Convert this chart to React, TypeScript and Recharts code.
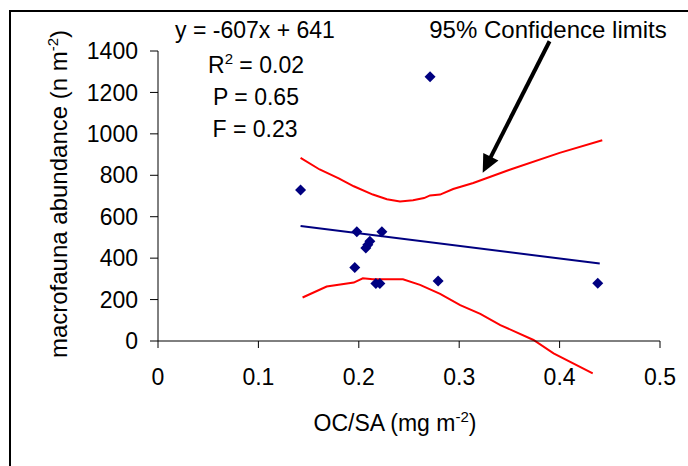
import React from 'react';
import { ComposedChart, XAxis, YAxis, Line, Scatter, ReferenceLine } from 'recharts';

// OC/SA (mg m-2) and macrofauna abundance (n m-2) for each station
const ocsa = [0.142, 0.271, 0.198, 0.223, 0.211, 0.209, 0.207, 0.196, 0.217, 0.221, 0.279, 0.438];
const abundance = [729, 1276, 527, 527, 481, 465, 449, 355, 277, 277, 290, 279];

// regression line y = -607x + 641 (end points)
const fitX = [0.142, 0.44];
const fitY = [555, 374];

// 95% confidence limits
const upperX = [0.142, 0.161, 0.18, 0.195, 0.214, 0.228, 0.241, 0.254, 0.265, 0.271, 0.281, 0.294, 0.314, 0.351, 0.4, 0.4425];
const upperY = [884, 828, 785, 747, 707, 684, 674, 679, 690, 703, 707, 734, 763, 828, 908, 969];
const lowerX = [0.144, 0.168, 0.195, 0.204, 0.214, 0.231, 0.244, 0.261, 0.281, 0.301, 0.321, 0.341, 0.374, 0.394, 0.433];
const lowerY = [210, 263, 282, 303, 298, 298, 298, 271, 228, 173, 131, 77, 5, -60, -156];

const xTicks = [0, 0.1, 0.2, 0.3, 0.4, 0.5];
const yTicks = [0, 200, 400, 600, 800, 1000, 1200, 1400];

// annotation arrow (data units)
const arrowFrom = { x: 0.39, y: 1447 };
const arrowTo = { x: 0.3234, y: 812 };

const pts = ocsa.map((x, i) => ({ x, y: abundance[i] }));
const fit = fitX.map((x, i) => ({ x, y: fitY[i] }));
const upper = upperX.map((x, i) => ({ x, y: upperY[i] }));
const lower = lowerX.map((x, i) => ({ x, y: lowerY[i] }));

const FONT = '"Liberation Sans", Arial, sans-serif';
const NAVY = '#000080';
const RED = '#ff0000';

const Diamond = (props: any) => {
  const { cx, cy } = props;
  if (cx == null || cy == null) return null;
  const r = 5.5;
  return <polygon points={`${cx},${cy - r} ${cx + r},${cy} ${cx},${cy + r} ${cx - r},${cy}`} fill={NAVY} />;
};

const Arrow = (props: any) => {
  const { x1, y1, x2, y2 } = props;
  if ([x1, y1, x2, y2].some((v) => v == null || isNaN(v))) return null;
  const dx = x2 - x1;
  const dy = y2 - y1;
  const len = Math.sqrt(dx * dx + dy * dy);
  const ux = dx / len;
  const uy = dy / len;
  const px = -uy;
  const py = ux;
  const head = 18;
  const half = 8.5;
  const bx = x2 - ux * head;
  const by = y2 - uy * head;
  return (
    <g>
      <line x1={x1} y1={y1} x2={bx + ux * 2} y2={by + uy * 2} stroke="#000" strokeWidth={4} />
      <polygon points={`${x2},${y2} ${bx + px * half},${by + py * half} ${bx - px * half},${by - py * half}`} fill="#000" />
    </g>
  );
};

export default function App() {
  return (
    <div style={{ position: 'absolute', left: 0, top: 0, width: 688, height: 466, overflow: 'hidden', background: '#fff', fontFamily: FONT }}>
      <style>{'.noclip [clip-path]{clip-path:none !important}'}</style>
      <div style={{ position: 'absolute', left: 9, top: 10, width: 800, height: 600, borderLeft: '2px solid #000', borderTop: '2px solid #000' }} />
      <div className="noclip" style={{ position: 'absolute', left: 0, top: 0 }}>
        <ComposedChart width={688} height={466} margin={{ top: 51, right: 28, bottom: 85, left: 0 }}>
          <XAxis
            type="number"
            dataKey="x"
            domain={[0, 0.5]}
            ticks={xTicks}
            allowDataOverflow
            height={40}
            stroke="#000"
            tickSize={7}
            tickMargin={21}
            tick={{ fill: '#000', fontSize: 23, fontFamily: FONT }}
          />
          <YAxis
            type="number"
            dataKey="y"
            domain={[0, 1400]}
            ticks={yTicks}
            allowDataOverflow
            width={158}
            stroke="#000"
            tickSize={8}
            tickMargin={12}
            tick={{ fill: '#000', fontSize: 23, fontFamily: FONT }}
          />
          <Line data={upper} dataKey="y" type="linear" stroke={RED} strokeWidth={2} dot={false} isAnimationActive={false} />
          <Line data={lower} dataKey="y" type="linear" stroke={RED} strokeWidth={2} dot={false} isAnimationActive={false} />
          <Line data={fit} dataKey="y" type="linear" stroke={NAVY} strokeWidth={2} dot={false} isAnimationActive={false} />
          <Scatter data={pts} dataKey="y" shape={Diamond} isAnimationActive={false} />
          <ReferenceLine
            segment={[{ x: arrowFrom.x, y: arrowFrom.y }, { x: arrowTo.x, y: arrowTo.y }]}
            ifOverflow="visible"
            shape={Arrow}
          />
        </ComposedChart>
      </div>
      <svg width={688} height={466} style={{ position: 'absolute', left: 0, top: 0, pointerEvents: 'none' }}>
        <g fontFamily={FONT} fontSize={23} fill="#000" textAnchor="middle">
          <text x={255} y={38}>y = -607x + 641</text>
          <text x={256} y={73}>
            R<tspan fontSize={15} dy={-9}>2</tspan>
            <tspan dy={9}> = 0.02</tspan>
          </text>
          <text x={256} y={105}>P = 0.65</text>
          <text x={255} y={137}>F = 0.23</text>
          <text x={548} y={38} fontSize={24}>95% Confidence limits</text>
          <text x={395} y={431}>
            OC/SA (mg m<tspan fontSize={15} dy={-9}>-2</tspan>
            <tspan dy={9}>)</tspan>
          </text>
          <text x={67} y={194} fontSize={24} transform="rotate(-90 67 194)">
            macrofauna abundance (n m<tspan fontSize={15} dy={-9}>-2</tspan>
            <tspan dy={9}>)</tspan>
          </text>
        </g>
      </svg>
    </div>
  );
}
